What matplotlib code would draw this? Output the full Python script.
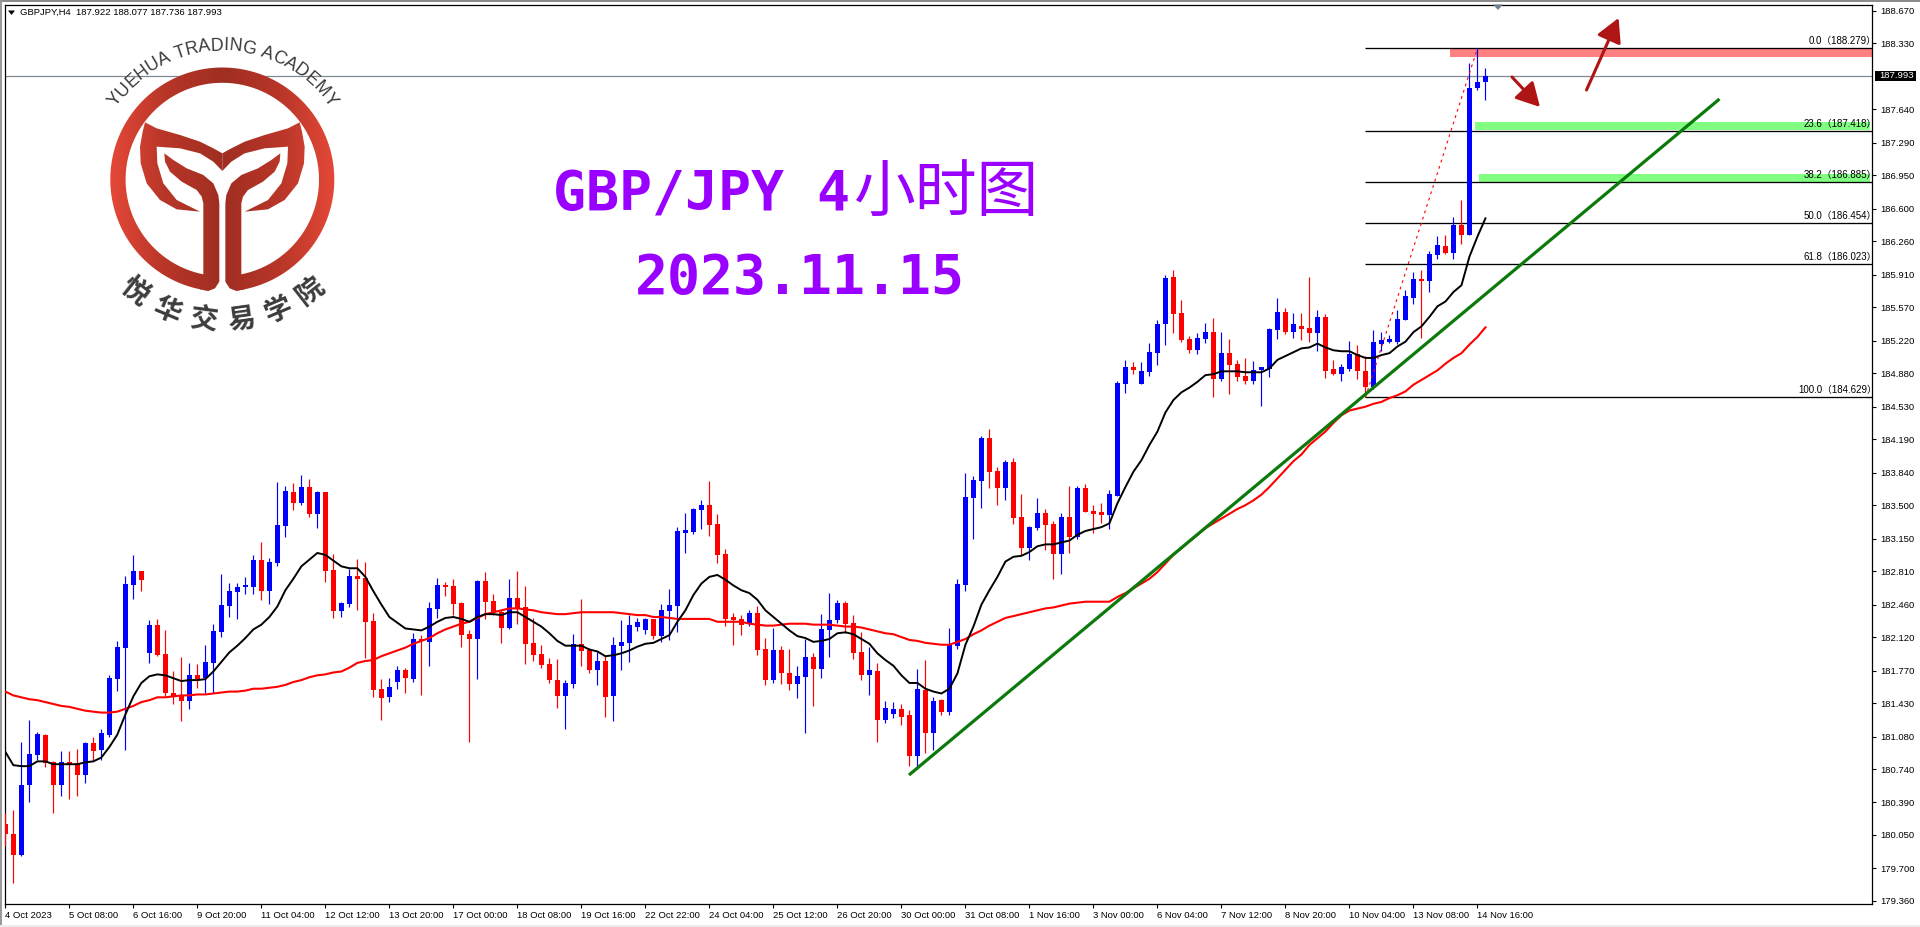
import numpy as np
import matplotlib
matplotlib.use("Agg")
import matplotlib.pyplot as plt
from matplotlib.path import Path
from matplotlib.patches import Rectangle, Polygon, FancyArrowPatch
from matplotlib.textpath import text_to_path
from matplotlib.font_manager import FontProperties

opens = [
    180.17, 180.06, 179.84, 180.57, 180.89, 181.10, 180.81, 180.57, 180.81, 180.80,
    180.68, 181.01, 180.94, 181.10, 181.68, 182.01, 182.67, 182.81, 181.95, 182.25,
    181.94, 181.53, 181.50, 181.45, 181.72, 181.69, 181.85, 182.17, 182.45, 182.59,
    182.64, 182.64, 182.93, 182.60, 182.90, 183.28, 183.64, 183.52, 183.69, 183.41,
    183.64, 182.82, 182.39, 182.47, 182.76, 182.74, 182.29, 181.58, 181.49, 181.65,
    181.78, 181.68, 182.10, 182.07, 182.41, 182.67, 182.65, 182.48, 182.15, 182.10,
    182.71, 182.50, 182.38, 182.22, 182.53, 182.43, 182.06, 181.94, 181.84, 181.67,
    181.50, 181.63, 182.05, 181.98, 181.78, 181.87, 181.50, 182.03, 182.06, 182.23,
    182.19, 182.31, 182.13, 182.39, 182.45, 183.21, 183.22, 183.45, 183.50, 183.30,
    182.99, 182.32, 182.31, 182.27, 182.37, 182.00, 181.67, 181.98, 181.74, 181.63,
    181.70, 181.91, 181.79, 182.19, 182.30, 182.48, 182.27, 181.96, 181.72, 181.77,
    181.25, 181.32, 181.37, 181.30, 180.88, 181.57, 181.12, 181.46, 181.34, 182.03,
    182.67, 183.58, 183.75, 184.20, 183.86, 183.68, 183.95, 183.38, 183.05, 183.26,
    183.42, 183.30, 182.99, 183.38, 183.17, 183.68, 183.44, 183.42, 183.40, 183.60,
    184.77, 184.95, 184.77, 184.89, 185.09, 185.39, 185.89, 185.51, 185.24, 185.12,
    185.24, 185.31, 184.82, 185.09, 184.98, 184.85, 184.80, 184.91, 184.92, 185.33,
    185.52, 185.31, 185.37, 185.35, 185.30, 185.47, 184.92, 184.87, 184.92, 185.08,
    184.90, 184.74, 185.19, 185.21, 185.21, 185.44, 185.67, 185.87, 185.84, 186.12,
    186.21, 186.14, 186.43, 186.33, 187.86, 187.922,
]
closes = [
    180.06, 179.84, 180.57, 180.90, 181.11, 180.80, 180.57, 180.81, 180.79, 180.68,
    181.01, 180.93, 181.12, 181.69, 182.02, 182.68, 182.81, 182.72, 182.25, 181.93,
    181.53, 181.49, 181.45, 181.72, 181.68, 181.86, 182.18, 182.46, 182.60, 182.64,
    182.65, 182.93, 182.60, 182.91, 183.29, 183.65, 183.52, 183.69, 183.41, 183.64,
    182.81, 182.39, 182.48, 182.76, 182.73, 182.28, 181.57, 181.48, 181.60, 181.78,
    181.69, 182.10, 182.08, 182.42, 182.67, 182.64, 182.47, 182.14, 182.10, 182.71,
    182.49, 182.37, 182.22, 182.53, 182.42, 182.05, 181.93, 181.83, 181.67, 181.50,
    181.64, 182.05, 181.97, 181.78, 181.87, 181.49, 182.04, 182.07, 182.25, 182.28,
    182.31, 182.13, 182.40, 182.46, 183.23, 183.23, 183.46, 183.50, 183.29, 182.98,
    182.31, 182.30, 182.25, 182.37, 181.98, 181.67, 181.98, 181.74, 181.63, 181.71,
    181.91, 181.79, 182.20, 182.30, 182.48, 182.26, 181.95, 181.72, 181.78, 181.25,
    181.38, 181.37, 181.28, 180.88, 181.58, 181.12, 181.45, 181.34, 182.04, 182.68,
    183.59, 183.76, 184.20, 183.85, 183.68, 183.95, 183.37, 183.05, 183.27, 183.42,
    183.29, 182.99, 183.38, 183.17, 183.68, 183.43, 183.41, 183.40, 183.62, 184.78,
    184.95, 184.91, 184.90, 185.10, 185.40, 185.88, 185.50, 185.23, 185.12, 185.25,
    185.31, 184.82, 185.09, 184.97, 184.84, 184.80, 184.91, 184.94, 185.34, 185.52,
    185.31, 185.39, 185.34, 185.30, 185.47, 184.90, 184.87, 184.94, 185.08, 184.90,
    184.74, 185.21, 185.23, 185.22, 185.45, 185.69, 185.87, 185.84, 186.13, 186.22,
    186.14, 186.43, 186.33, 187.86, 187.93, 187.993,
]
highs = [
    180.28, 180.31, 181.02, 181.25, 181.13, 181.11, 180.82, 180.93, 180.93, 180.95,
    181.02, 181.08, 181.16, 181.72, 182.08, 182.76, 182.98, 182.81, 182.30, 182.31,
    182.19, 181.77, 181.91, 181.85, 181.84, 182.04, 182.26, 182.78, 182.69, 182.69,
    182.75, 182.98, 183.11, 182.95, 183.74, 183.70, 183.73, 183.82, 183.77, 183.65,
    183.64, 182.99, 182.49, 182.83, 182.94, 182.91, 182.37, 181.68, 181.69, 181.82,
    181.80, 182.16, 182.14, 182.49, 182.74, 182.70, 182.73, 182.49, 182.19, 182.72,
    182.80, 182.57, 182.40, 182.73, 182.81, 182.65, 182.32, 182.04, 181.90, 181.89,
    181.67, 182.15, 182.52, 182.01, 181.96, 181.92, 182.12, 182.30, 182.35, 182.32,
    182.32, 182.31, 182.47, 182.62, 183.27, 183.42, 183.47, 183.55, 183.75, 183.41,
    183.04, 182.37, 182.35, 182.40, 182.45, 182.11, 182.22, 182.03, 182.00, 181.82,
    182.10, 181.95, 182.36, 182.58, 182.51, 182.50, 182.35, 182.17, 182.02, 181.85,
    181.45, 181.44, 181.42, 181.36, 181.79, 181.88, 181.49, 181.47, 182.22, 182.73,
    183.84, 183.81, 184.22, 184.30, 183.90, 183.97, 183.99, 183.62, 183.28, 183.57,
    183.46, 183.33, 183.42, 183.70, 183.70, 183.72, 183.50, 183.52, 183.66, 184.80,
    185.02, 185.00, 185.00, 185.20, 185.44, 185.91, 185.96, 185.65, 185.27, 185.30,
    185.41, 185.46, 185.31, 185.24, 185.02, 185.04, 185.01, 184.95, 185.35, 185.67,
    185.56, 185.51, 185.51, 185.89, 185.54, 185.50, 185.02, 184.98, 185.22, 185.18,
    185.06, 185.33, 185.31, 185.28, 185.54, 185.75, 185.94, 185.96, 186.16, 186.32,
    186.33, 186.51, 186.69, 188.13, 188.279, 188.077,
]
lows = [
    179.93, 179.55, 179.83, 180.40, 180.83, 180.76, 180.28, 180.46, 180.43, 180.46,
    180.59, 180.83, 180.83, 181.07, 181.56, 180.94, 182.52, 182.60, 181.85, 181.92,
    181.50, 181.42, 181.24, 181.37, 181.59, 181.53, 181.53, 182.12, 182.33, 182.31,
    182.57, 182.57, 182.51, 182.47, 182.86, 183.17, 183.45, 183.50, 183.38, 183.26,
    182.70, 182.32, 182.33, 182.43, 182.40, 181.90, 181.49, 181.25, 181.44, 181.58,
    181.54, 181.65, 181.51, 181.82, 182.32, 182.55, 182.35, 182.02, 181.02, 181.68,
    182.31, 182.35, 182.06, 182.20, 182.26, 181.84, 181.87, 181.80, 181.64, 181.38,
    181.16, 181.59, 181.82, 181.74, 181.62, 181.28, 181.24, 181.78, 181.86, 182.18,
    182.15, 182.10, 182.07, 182.09, 182.17, 183.00, 183.20, 183.25, 183.18, 182.89,
    182.24, 182.04, 182.14, 182.24, 181.93, 181.62, 181.64, 181.63, 181.57, 181.48,
    181.12, 181.40, 181.69, 181.91, 182.27, 182.16, 181.89, 181.67, 181.51, 181.02,
    181.22, 181.27, 181.20, 180.77, 180.76, 180.91, 180.94, 181.30, 181.31, 182.00,
    182.60, 183.15, 183.47, 183.68, 183.50, 183.55, 183.30, 182.98, 182.93, 183.24,
    183.03, 182.73, 182.78, 183.00, 183.15, 183.43, 183.21, 183.31, 183.25, 183.60,
    184.67, 184.87, 184.77, 184.85, 184.97, 185.18, 185.30, 185.21, 185.09, 185.08,
    185.20, 184.63, 184.80, 184.66, 184.80, 184.77, 184.77, 184.54, 184.84, 185.24,
    185.29, 185.25, 185.23, 185.21, 185.11, 184.83, 184.86, 184.80, 184.90, 184.82,
    184.63, 184.72, 185.11, 185.20, 185.19, 185.44, 185.60, 185.25, 185.73, 186.07,
    186.13, 186.07, 186.23, 186.33, 187.84, 187.736,
]
black_ma = [
    180.92, 180.78, 180.77, 180.77, 180.82, 180.82, 180.79, 180.79, 180.79, 180.79,
    180.81, 180.82, 180.86, 180.97, 181.10, 181.31, 181.50, 181.64, 181.71, 181.73,
    181.72, 181.69, 181.66, 181.67, 181.67, 181.68, 181.76, 181.86, 181.96, 182.03,
    182.11, 182.20, 182.25, 182.33, 182.44, 182.61, 182.73, 182.86, 182.93, 183.00,
    182.98, 182.92, 182.86, 182.84, 182.84, 182.75, 182.60, 182.46, 182.33, 182.27,
    182.21, 182.20, 182.19, 182.23, 182.28, 182.32, 182.33, 182.31, 182.28, 182.33,
    182.36, 182.36, 182.35, 182.38, 182.38, 182.33, 182.28, 182.23, 182.16, 182.08,
    182.03, 182.03, 182.03, 181.99, 181.97, 181.92, 181.93, 181.95, 181.98, 182.02,
    182.05, 182.06, 182.10, 182.14, 182.28, 182.40, 182.56, 182.68, 182.75, 182.77,
    182.72, 182.66, 182.61, 182.58, 182.51, 182.40, 182.33, 182.26, 182.19, 182.13,
    182.11, 182.07, 182.08, 182.10, 182.16, 182.17, 182.15, 182.10, 182.05, 181.95,
    181.88, 181.82, 181.72, 181.64, 181.64, 181.58, 181.55, 181.53, 181.58, 181.74,
    182.04, 182.23, 182.46, 182.61, 182.75, 182.91, 182.96, 182.97, 183.01, 183.07,
    183.09, 183.09, 183.11, 183.13, 183.19, 183.23, 183.25, 183.27, 183.31, 183.52,
    183.69, 183.85, 183.97, 184.13, 184.27, 184.47, 184.60, 184.68, 184.73, 184.79,
    184.86, 184.87, 184.90, 184.90, 184.90, 184.89, 184.89, 184.89, 184.93, 185.02,
    185.06, 185.10, 185.14, 185.15, 185.19, 185.15, 185.12, 185.11, 185.11, 185.07,
    185.04, 185.04, 185.07, 185.09, 185.16, 185.21, 185.31, 185.37, 185.47, 185.58,
    185.63, 185.73, 185.80, 186.10, 186.31, 186.50,
]
red_ma = [
    181.55, 181.51, 181.49, 181.47, 181.46, 181.44, 181.42, 181.40, 181.39, 181.37,
    181.35, 181.34, 181.33, 181.33, 181.34, 181.37, 181.40, 181.44, 181.46, 181.49,
    181.49, 181.50, 181.51, 181.51, 181.52, 181.52, 181.53, 181.54, 181.55, 181.55,
    181.56, 181.58, 181.58, 181.59, 181.60, 181.62, 181.65, 181.67, 181.70, 181.72,
    181.73, 181.75, 181.76, 181.80, 181.85, 181.87, 181.88, 181.92, 181.95, 181.98,
    182.01, 182.05, 182.08, 182.11, 182.16, 182.20, 182.23, 182.26, 182.28, 182.32,
    182.36, 182.38, 182.40, 182.42, 182.42, 182.41, 182.40, 182.38, 182.37, 182.36,
    182.36, 182.37, 182.38, 182.38, 182.38, 182.38, 182.38, 182.37, 182.36, 182.35,
    182.35, 182.33, 182.33, 182.32, 182.31, 182.31, 182.31, 182.31, 182.31, 182.28,
    182.28, 182.28, 182.28, 182.26, 182.25, 182.24, 182.24, 182.25, 182.26, 182.26,
    182.26, 182.25, 182.25, 182.25, 182.24, 182.23, 182.23, 182.22, 182.20, 182.18,
    182.16, 182.15, 182.12, 182.09, 182.08, 182.06, 182.05, 182.04, 182.04, 182.07,
    182.10, 182.15, 182.19, 182.24, 182.28, 182.32, 182.34, 182.36, 182.38, 182.40,
    182.42, 182.43, 182.45, 182.47, 182.48, 182.49, 182.49, 182.49, 182.49, 182.54,
    182.58, 182.63, 182.68, 182.73, 182.80, 182.89, 182.98, 183.05, 183.12, 183.19,
    183.26, 183.31, 183.36, 183.41, 183.46, 183.50, 183.55, 183.61, 183.69, 183.78,
    183.87, 183.96, 184.03, 184.13, 184.20, 184.27, 184.36, 184.44, 184.49, 184.51,
    184.53, 184.56, 184.58, 184.62, 184.65, 184.69, 184.76, 184.81, 184.86, 184.91,
    184.98, 185.04, 185.09, 185.18, 185.26, 185.36,
]

date_labels = [
    "4 Oct 2023", "5 Oct 08:00", "6 Oct 16:00", "9 Oct 20:00", "11 Oct 04:00",
    "12 Oct 12:00", "13 Oct 20:00", "17 Oct 00:00", "18 Oct 08:00", "19 Oct 16:00",
    "22 Oct 22:00", "24 Oct 04:00", "25 Oct 12:00", "26 Oct 20:00", "30 Oct 00:00",
    "31 Oct 08:00", "1 Nov 16:00", "3 Nov 00:00", "6 Nov 04:00", "7 Nov 12:00",
    "8 Nov 20:00", "10 Nov 04:00", "13 Nov 08:00", "14 Nov 16:00",
]
price_ticks = [
    188.670, 188.330, 187.640, 187.290, 186.950, 186.600, 186.260, 185.910, 185.570,
    185.220, 184.880, 184.530, 184.190, 183.840, 183.500, 183.150, 182.810, 182.460,
    182.120, 181.770, 181.430, 181.080, 180.740, 180.390, 180.050, 179.700, 179.360,
]
fib_levels = [0.0, 23.6, 38.2, 50.0, 61.8, 100.0]
fib_prices = [188.279, 187.418, 186.885, 186.454, 186.023, 184.629]
last_price = 187.993

W, H = 1920, 927
AX_L, AX_R, AX_T, AX_B = 4.7, 1872.3, 4.5, 904.0
UI_FONT = "Liberation Sans"
PURPLE = "#9900FF"

fig = plt.figure(figsize=(W / 100, H / 100), dpi=100, facecolor="white")
ax = fig.add_axes([AX_L / W, 1 - AX_B / H, (AX_R - AX_L) / W, (AX_B - AX_T) / H])
ax.set_xlim(-0.08, 233.35)
ax.set_ylim(179.328, 188.737)

x = np.arange(len(opens))
opens_a, closes_a = np.array(opens), np.array(closes)
up = closes_a >= opens_a
colors = np.where(up, "#0000FF", "#FF0000")
ax.vlines(x, lows, highs, colors=colors, linewidth=0.85, zorder=3)
ax.bar(x, np.maximum(np.abs(closes_a - opens_a), 0.025), bottom=np.minimum(opens_a, closes_a),
       width=0.62, color=colors, linewidth=0, zorder=3)

ax.plot(x, red_ma, color="#FF0000", lw=1.5, zorder=4)
ax.plot(x, black_ma, color="black", lw=1.4, zorder=4)

# zones and fibo
ax.axhline(last_price, color="#808890", lw=0.9, zorder=2)
ax.add_patch(Rectangle((180.6, 188.19), 52.8, 188.279 - 188.19, color="#FF8080", lw=0, zorder=1))
ax.add_patch(Rectangle((183.7, 187.424), 49.4, 0.084, color="#80FF80", lw=0, zorder=1))
ax.add_patch(Rectangle((184.2, 186.873), 48.9, 0.091, color="#80FF80", lw=0, zorder=1))
for lvl, p in zip(fib_levels, fib_prices):
    ax.plot([170, 233.35], [p, p], color="black", lw=0.95, zorder=2, solid_capstyle="butt")
    ax.text(233.9, p + 0.02, f"{lvl:.1f}（{p:.3f}）", ha="right", va="bottom", fontsize=7.0,
            family=[UI_FONT, "Noto Sans CJK SC"], zorder=6)
ax.plot([170, 184], [184.629, 188.279], color="#FF0000", lw=0.8, ls=(0, (2.5, 3.5)), zorder=4)
ax.plot([113.1, 214.1], [180.688, 187.738], color="#0B7A0B", lw=2.3, zorder=5)

ax.set_xticks(x[::8])
ax.set_xticklabels(date_labels, ha="left", family=UI_FONT, fontsize=6.8)
ax.set_yticks(price_ticks)
ax.yaxis.tick_right()
ax.set_yticklabels([f"{p:.3f}" for p in price_ticks], family=UI_FONT, fontsize=6.8)
ax.tick_params(axis="x", length=3, width=0.8, pad=2)
ax.tick_params(axis="y", length=3, width=0.8, pad=3)
for s in ax.spines.values():
    s.set_linewidth(0.9)

# overlay in pixels for window chrome, title and logo
ov = fig.add_axes([0, 0, 1, 1], facecolor="none", zorder=10)
ov.axis("off")

ov.add_patch(Rectangle((0, 0), W, 2.2, color="#8C8C8C", lw=0))
ov.add_patch(Rectangle((0, 0), 2.2, H, color="#9A9A9A", lw=0))
ov.add_patch(Rectangle((0, 925), W, 2, color="#EDEDED", lw=0))
ov.add_patch(Polygon([(1493, 4.5), (1503, 4.5), (1498, 10)], color="#708090", lw=0))
ov.add_patch(Polygon([(8, 10.5), (15, 10.5), (11.5, 15)], color="black", lw=0))
ov.text(20, 12.5, "GBPJPY,H4  187.922 188.077 187.736 187.993", family=UI_FONT, fontsize=6.8,
        va="center", color="black")
ov.add_patch(Rectangle((1875, 70.5), 40.5, 10.5, color="black", lw=0))
ov.text(1879, 75.6, f"{last_price:.3f}", family=UI_FONT, fontsize=6.8, color="white", va="center")

ov.text(553, 210, "GBP/JPY 4", family="DejaVu Sans Mono", weight="bold", fontsize=39.5, color=PURPLE,
        ha="left", va="baseline")
ov.text(853, 211, "小时图", family="Noto Sans CJK SC", fontsize=44.5, color=PURPLE, ha="left", va="baseline")
ov.text(635, 294, "2023.11.15", family="DejaVu Sans Mono", weight="bold", fontsize=39.5, color=PURPLE,
        ha="left", va="baseline")

for (x0, y0), (x1, y1), ms in [((1512, 77), (1540, 107), 26), ((1586.5, 90), (1618.6, 18), 26)]:
    ov.add_patch(FancyArrowPatch((x0, y0), (x1, y1), arrowstyle="-|>,head_length=0.55,head_width=0.3",
                                 mutation_scale=ms, color="#B01515", lw=2.2, shrinkA=0, shrinkB=0))


# logo, outline read in 3x crop units
def lp(points, mirror=False):
    a = np.array(points, dtype=float)
    if mirror:
        a[:, 0] = 2 * 667 - a[:, 0]
    return a / 3


wing = [(435, 367), (470, 385), (540, 405), (600, 425), (640, 445), (667, 460), (667, 513),
        (640, 485), (600, 460), (540, 445), (470, 440), (472, 490), (490, 550), (530, 600),
        (600, 635), (530, 628), (480, 600), (440, 550), (422, 490), (420, 440), (428, 395)]
stem = [(493, 460), (520, 480), (560, 505), (610, 525), (640, 550), (655, 585), (658, 610),
        (658, 845), (645, 865), (625, 873), (600, 868), (610, 822), (610, 610), (605, 590),
        (590, 570), (545, 545), (510, 515), (495, 485)]
cx, cy, r_out, r_in = 222.3, 179.5, 112.0, 96.7
ang = np.radians(np.linspace(-172.5, 172.5, 240))
ring = np.vstack([np.c_[cx + r_out * np.sin(ang), cy - r_out * np.cos(ang)],
                  np.c_[cx + r_in * np.sin(ang[::-1]), cy - r_in * np.cos(ang[::-1])]])
grad_pos = [110, 165, 222, 280, 335]
grad_cols = np.array([[228, 72, 56], [184, 54, 40], [160, 46, 34], [184, 54, 40], [228, 72, 56]]) / 255
gx = np.linspace(110, 335, 256)
grad = np.stack([np.interp(gx, grad_pos, grad_cols[:, k]) for k in range(3)], axis=-1)[None, :, :]
pieces = [ring, lp(wing), lp(wing, True), lp(stem), lp(stem, True)]
for pc in pieces:
    im = ov.imshow(grad, extent=(110, 335, 300, 60), aspect="auto", zorder=3, interpolation="bilinear")
    im.set_clip_path(Path(np.vstack([pc, pc[0]]), closed=True), transform=ov.transData)

name_en = "YUEHUA TRADING ACADEMY"
em = 12.8
fp = FontProperties(family="Liberation Sans", size=em)
advance = np.array([text_to_path.get_text_width_height_descent(c, fp, False)[0] for c in name_en]) / 0.72
r_txt = 129.0
pos = np.cumsum(advance) - advance / 2 - advance.sum() / 2
for c, s in zip(name_en, pos):
    th = s / r_txt
    ov.text(cx + r_txt * np.sin(th), cy - r_txt * np.cos(th), c, family="Liberation Sans", fontsize=em,
            color="#3A3A3A", rotation=-np.degrees(th), rotation_mode="anchor", ha="center", va="baseline",
            zorder=4)

name_cn = "悦华交易学院"
for c, deg in zip(name_cn, [38, 22.7, 7.5, -8, -23, -38]):
    th = np.radians(deg)
    ov.text(cx - 142.5 * np.sin(th), cy + 142.5 * np.cos(th), c, family="Noto Sans CJK SC", weight="bold",
            fontsize=20, color="#3C3C3C", rotation=-deg, rotation_mode="anchor", ha="center", va="center",
            zorder=4)

ov.set_xlim(0, W)
ov.set_ylim(H, 0)

fig.savefig("out.png", dpi=100, facecolor="white")
